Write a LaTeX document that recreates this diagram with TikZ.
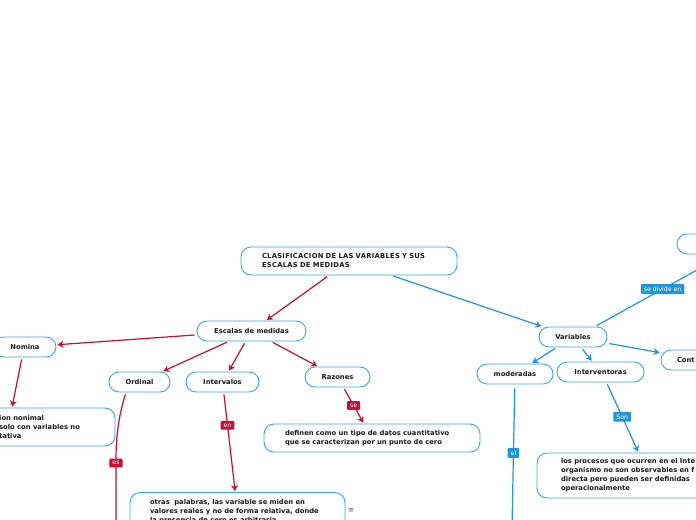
\documentclass[tikz,border=0pt]{standalone}
\usepackage{fontspec}
\setmainfont{DejaVu Sans}
\usetikzlibrary{arrows.meta}
\definecolor{cred}{HTML}{C8102E}
\definecolor{cblue}{HTML}{1E96DE}
\definecolor{bblue}{HTML}{3AA7EA}
\definecolor{ink}{HTML}{1A1A1A}
\begin{document}
\begin{tikzpicture}[x=1bp,y=-1bp,
  box/.style={draw=bblue, line width=0.9bp, rounded corners=10bp, fill=white,
    font=\fontsize{6.8}{9}\bfseries\selectfont, text=ink, inner sep=0pt},
  rlab/.style={fill=cred, text=white, font=\fontsize{6.2}{7}\selectfont, inner xsep=3bp, inner ysep=2.6bp, rounded corners=1bp},
  blab/.style={fill=cblue, text=white, font=\fontsize{6.2}{7}\selectfont, inner xsep=3bp, inner ysep=2.6bp, rounded corners=1bp},
  rarr/.style={draw=cred, line width=1.2bp, -{Stealth[length=6bp,width=7bp]}, shorten <=2bp, shorten >=1bp},
  barr/.style={draw=cblue, line width=1.2bp, -{Stealth[length=6bp,width=7bp]}, shorten <=2bp, shorten >=1bp}]
\useasboundingbox (0,0) rectangle (696,520);
\clip (0,0) rectangle (696,520);
\fill[white] (0,0) rectangle (696,520);

% nodes
\node[box, minimum width=216bp, minimum height=28bp, text width=174bp, align=left] (title) at (349,261)
  {\addfontfeature{LetterSpace=4}CLASIFICACION DE LAS VARIABLES Y SUS\\ESCALAS DE MEDIDAS};
\node[box, minimum width=109bp, minimum height=20bp] (esc) at (251.5,331) {Escalas de medidas};
\node[box, minimum width=62bp, minimum height=20bp] (nom) at (25,347) {Nomina};
\node[box, minimum width=61bp, minimum height=20bp] (ord) at (139.5,382) {Ordinal};
\node[box, minimum width=73bp, minimum height=20bp] (intv) at (222.5,382) {Intervalos};
\node[box, minimum width=65bp, minimum height=20bp] (raz) at (337.5,377) {Razones};
\node[box, minimum width=225bp, minimum height=38bp] (nomc) at (2.5,427) {};
\node[font=\fontsize{6.8}{9}\bfseries\selectfont, text=ink, inner sep=0pt, anchor=west, align=left] (nomt) at (-1,427)
  {ion nonimal\\solo con variables no\\tativa};
\node[box, minimum width=216bp, minimum height=28bp, text width=174bp, align=left] (razc) at (372,438)
  {definen como un tipo de datos cuantitativo\\que se caracterizan por un punto de cero};
\node[box, minimum width=215bp, minimum height=38bp, text width=175bp, align=left] (intc) at (237.5,511.5)
  {otras\ \ palabras, las variable se miden en\\valores reales y no de forma relativa, donde\\la presencia de cero es arbitraria};
\node[text=black!70, font=\fontsize{7}{8}\selectfont, inner sep=0pt] (menu) at (351,511) {≡};

\node[box, minimum width=68bp, minimum height=20bp] (var) at (573,337) {Variables};
\node[box, minimum width=76bp, minimum height=20bp] (mod) at (515,374) {moderadas};
\node[box, minimum width=87bp, minimum height=20bp] (intr) at (600.5,372) {Interventoras};
\node[box, minimum width=79bp, minimum height=20bp, text width=47bp, align=left] (cont) at (700.5,360) {Cont};
\node[box, minimum width=96bp, minimum height=20bp] (tr) at (725,244) {};
\node[box, minimum width=263bp, minimum height=45bp, text width=215bp, align=left] (ichild) at (668.5,475.5)
  {los procesos que ocurren en el Inte\\organismo no son observables en f\\directa pero pueden ser definidas\\operacionalmente};

\coordinate (ordend) at (116,540);
\coordinate (modend) at (512,527);

% connectors red
\draw[rarr] (title) -- (esc);
\draw[rarr] (esc) -- (nom);
\draw[rarr] (esc) -- (ord);
\draw[rarr] (esc) -- (intv);
\draw[rarr] (esc) -- (raz);
\draw[rarr] ([xshift=-3bp]nom.south) -- ([xshift=9.5bp]nomc.north);
\draw[rarr] ([xshift=-13.5bp]ord.south) .. controls (119,415) and (116,435) .. (116,460) -- (ordend);
\node[rlab] (es) at (116,463) {es};
\draw[rarr] (intv) -- (intc) node[rlab, pos=0.33] (en) {en};
\draw[rarr] (raz) -- (razc) node[rlab, pos=0.5] (se) {se};

% connectors blue
\draw[barr] (title) -- (var);
\draw[barr] (var) -- (mod);
\draw[barr] (var) -- (intr);
\draw[barr] (var) -- (cont);
\draw[barr] ([xshift=22bp]var.north) -- (tr.south) node[blab, pos=0.52] (sdiv) {se divide en};
\draw[barr, shorten <=4bp] (mod) -- (modend) node[blab, pos=0.48] (el) {el};
\draw[barr] ([xshift=6bp]intr.south) -- ([xshift=-30bp]ichild.north) node[blab, pos=0.49] (son) {Son};
\end{tikzpicture}
\end{document}
